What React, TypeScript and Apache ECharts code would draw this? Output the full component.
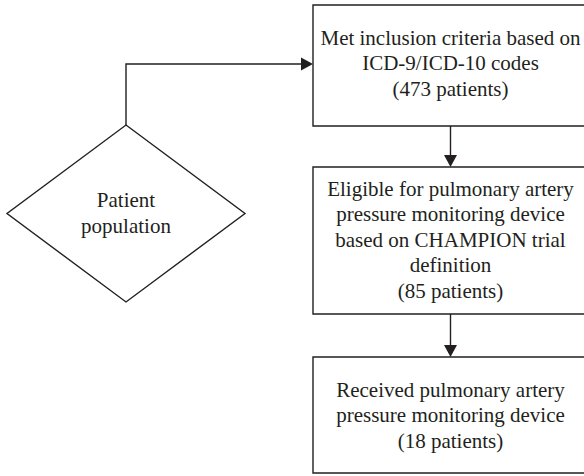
import React, { useEffect, useRef } from "react";
import * as echarts from "echarts";

const diamondLabel = ["Patient", "population"];
const box1Lines = ["Met inclusion criteria based on", "ICD-9/ICD-10 codes", "(473 patients)"];
const box2Lines = [
  "Eligible for pulmonary artery",
  "pressure monitoring device",
  "based on CHAMPION trial",
  "definition",
  "(85 patients)",
];
const box3Lines = ["Received pulmonary artery", "pressure monitoring device", "(18 patients)"];

const INK = "#231f20";
const FONT = "'Liberation Serif', 'DejaVu Serif', serif";
const FS = 21;
const LH = 25.5;

function textBlock(lines: string[], cx: number, cy: number) {
  return {
    type: "text",
    x: cx,
    y: cy,
    style: {
      text: lines.join("\n"),
      fill: INK,
      fontFamily: FONT,
      fontSize: FS,
      lineHeight: LH,
      align: "center",
      verticalAlign: "middle",
    },
  };
}

function arrowHead(tipX: number, tipY: number, dir: "right" | "down") {
  const L = 12;
  const W = 6.5;
  const pts =
    dir === "right"
      ? [[tipX, tipY], [tipX - L, tipY - W], [tipX - L, tipY + W]]
      : [[tipX, tipY], [tipX - W, tipY - L], [tipX + W, tipY - L]];
  return { type: "polygon", shape: { points: pts }, style: { fill: INK } };
}

export default function App() {
  const ref = useRef<HTMLDivElement>(null);
  useEffect(() => {
    if (!ref.current) return;
    const chart = echarts.init(ref.current, null, { renderer: "svg" });
    const lineStyle = { stroke: INK, lineWidth: 1.4, fill: "none" };
    const boxX = 313;
    const boxW = 276;
    const cx = boxX + boxW / 2 - 0.5;
    chart.setOption({
      animation: false,
      backgroundColor: "#ffffff",
      graphic: [
        {
          type: "polygon",
          shape: { points: [[126, 125], [245, 213.5], [126, 302], [7, 213.5]] },
          style: { fill: "#fff", stroke: INK, lineWidth: 1.4 },
        },
        textBlock(diamondLabel, 126, 213),
        {
          type: "polyline",
          shape: { points: [[126, 125], [126, 64], [302, 64]] },
          style: lineStyle,
        },
        arrowHead(313, 64, "right"),
        { type: "rect", shape: { x: boxX, y: 5, width: boxW, height: 121 }, style: { fill: "none", stroke: INK, lineWidth: 1.4 } },
        textBlock(box1Lines, cx, 63),
        { type: "line", shape: { x1: cx, y1: 126, x2: cx, y2: 157 }, style: lineStyle },
        arrowHead(cx, 167, "down"),
        { type: "rect", shape: { x: boxX, y: 167, width: boxW, height: 147 }, style: { fill: "none", stroke: INK, lineWidth: 1.4 } },
        textBlock(box2Lines, cx, 239.5),
        { type: "line", shape: { x1: cx, y1: 314, x2: cx, y2: 347 }, style: lineStyle },
        arrowHead(cx, 357, "down"),
        { type: "rect", shape: { x: boxX, y: 357, width: boxW, height: 116 }, style: { fill: "none", stroke: INK, lineWidth: 1.4 } },
        textBlock(box3Lines, cx, 415),
      ],
    });
    return () => chart.dispose();
  }, []);
  return (
    <div
      ref={ref}
      style={{ position: "absolute", left: 0, top: 0, width: 584, height: 476 }}
    />
  );
}
